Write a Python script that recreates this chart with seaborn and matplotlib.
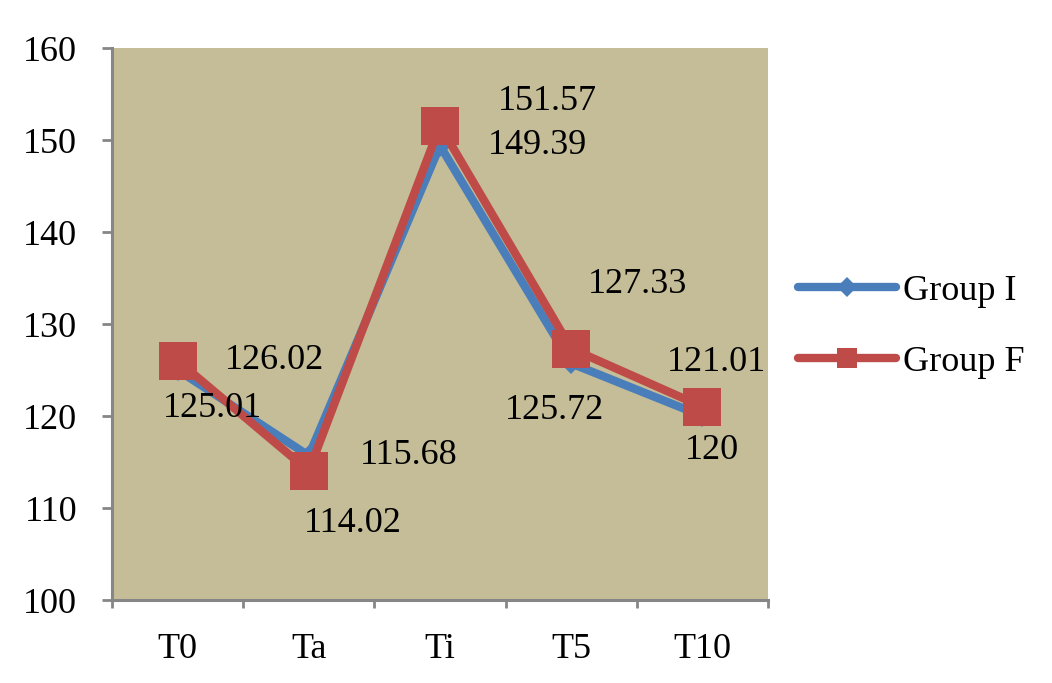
import pandas as pd
import numpy as np
import matplotlib
matplotlib.use("Agg")
import matplotlib.pyplot as plt
import seaborn as sns

sns.set_style("white")
plt.rcParams["font.family"] = ["Liberation Serif", "DejaVu Serif"]
plt.rcParams["text.color"] = "black"
plt.rcParams["xtick.color"] = "black"
plt.rcParams["ytick.color"] = "black"

# ------------------------------------------------------
# Data
# ------------------------------------------------------

times = ["T0", "Ta", "Ti", "T5", "T10"]
group_i = [125.01, 115.68, 149.39, 125.72, 120]
group_f = [126.02, 114.02, 151.57, 127.33, 121.01]
label_i = ["125.01", "115.68", "149.39", "125.72", "120"]
label_f = ["126.02", "114.02", "151.57", "127.33", "121.01"]

df = pd.DataFrame(
    {
        "Time": times * 2,
        "Value": group_i + group_f,
        "Group": ["Group I"] * 5 + ["Group F"] * 5,
    }
)

# ------------------------------------------------------
# Plot
# ------------------------------------------------------

blue = "#4A7EBB"
red = "#BE4B48"
grey = "#868686"
fs = 26

fig = plt.figure(figsize=(10.52, 6.83), dpi=100)
ax = fig.add_axes([0.1065, 0.1215, 0.6235, 0.8082])
ax.set_facecolor("#C4BD97")

sns.lineplot(
    data=df,
    x="Time",
    y="Value",
    hue="Group",
    style="Group",
    markers={"Group I": "D", "Group F": "s"},
    dashes=False,
    palette={"Group I": blue, "Group F": red},
    linewidth=6,
    ax=ax,
    legend=False,
)
# marker sizes
for line, ms in zip(ax.get_lines(), [11, 27]):
    line.set_markersize(ms)
    line.set_markeredgewidth(0)

ax.set_xlim(-0.5, 4.5)
ax.set_ylim(100, 160)
ax.set_yticks(range(100, 161, 10))
ax.set_xticks(range(5))
ax.set_xticklabels(times)
ax.set_xticks(np.arange(-0.5, 4.6, 1), minor=True)
ax.tick_params(axis="x", which="major", bottom=True, length=0, labelsize=fs, pad=24)
ax.tick_params(axis="x", which="minor", bottom=True, length=6, width=2, color=grey, direction="out")
ax.tick_params(axis="y", left=True, length=7, width=2, color=grey, direction="out",
               labelsize=fs, pad=18)
ax.set_xlabel("")
ax.set_ylabel("")

sns.despine(ax=ax)
for side in ["left", "bottom"]:
    ax.spines[side].set_color(grey)
    ax.spines[side].set_linewidth(2.2)

# data labels
offs_i = [(25, -28), (72, 0), (70, 0), (-12, -34), (7, -25)]
offs_f = [(70, 0), (32, -38), (77, 17), (48, 46), (10, 32)]
for k in range(5):
    ax.annotate(label_i[k], (k, group_i[k]), xytext=offs_i[k], textcoords="offset points",
                ha="center", va="center", fontsize=fs)
    ax.annotate(label_f[k], (k, group_f[k]), xytext=offs_f[k], textcoords="offset points",
                ha="center", va="center", fontsize=fs)

# legend
handles = [
    plt.Line2D([], [], color=blue, lw=6, marker="D", ms=10, mew=0, solid_capstyle="round"),
    plt.Line2D([], [], color=red, lw=6, marker="s", ms=15, mew=0, solid_capstyle="round"),
]
fig.legend(
    handles,
    ["Group I", "Group F"],
    loc="center left",
    bbox_to_anchor=(0.728, 0.522),
    frameon=False,
    fontsize=fs,
    handlelength=2.7,
    handletextpad=0.2,
    labelspacing=1.05,
)

fig.savefig("out.png", dpi=100)
